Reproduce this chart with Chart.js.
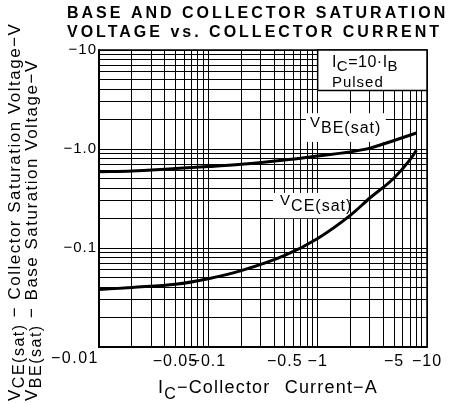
<!DOCTYPE html>
<html>
<head>
<meta charset="utf-8">
<script src="https://cdn.jsdelivr.net/npm/chart.js@4/dist/chart.umd.min.js"></script>
<style>
    html, body { margin: 0; padding: 0; background: #fff; }
    canvas { display: block; }
</style>
</head>
<body>
<canvas id="satChart" width="453" height="403"></canvas>
<script>
// collector current (A) and saturation voltages (V)
const vbeCurrent = [0.01, 0.02, 0.05, 0.1, 0.2, 0.5, 1, 2, 3, 5, 8];
const vbeSat = [0.59, 0.60, 0.636, 0.664, 0.70, 0.774, 0.85, 0.935, 1.02, 1.22, 1.45];
const vceCurrent = [0.01, 0.02, 0.05, 0.1, 0.2, 0.5, 1, 2, 3, 5, 7, 8];
const vceSat = [0.038, 0.040, 0.043, 0.049, 0.059, 0.084, 0.125, 0.215, 0.32, 0.51, 0.78, 0.97];

const xTickValues = [0.05, 0.1, 0.5, 1, 5, 10];
const xTickLabels = ['\u22120.05', '\u22120.1', '\u22120.5', '\u22121', '\u22125', '\u221210'];
const yTickValues = [10, 1, 0.1];
const yTickLabels = ['\u221210', '\u22121.0', '\u22120.1'];
const cornerLabel = '\u22120.01';

const FONT = '"Liberation Sans", Arial, Helvetica, sans-serif';

function gridValues(fromExp, toExp) {
    const out = [];
    for (let e = fromExp; e < toExp; e++) {
        for (let m = 1; m < 10; m++) out.push(+(m * Math.pow(10, e)).toPrecision(3));
    }
    out.push(Math.pow(10, toExp));
    return out;
}

function tickText(v, values, labels) {
    const i = values.findIndex(t => Math.abs(t - v) / t < 1e-6);
    return i < 0 ? '' : labels[i];
}

function toPoints(xs, ys) {
    return xs.map((x, i) => ({ x: x, y: ys[i] }));
}

// draws text made of [text, isSub] parts, returns its width
function drawRich(ctx, parts, x, y, size, subSize, subDrop, spacing) {
    let cx = x;
    ctx.letterSpacing = spacing;
    parts.forEach(p => {
        ctx.font = (p[1] ? subSize : size) + 'px ' + FONT;
        ctx.fillText(p[0], cx, y + (p[1] ? subDrop : 0));
        cx += ctx.measureText(p[0]).width;
    });
    return cx - x;
}

const textPlugin = {
    id: 'textPlugin',
    beforeDraw(chart) {
        const ctx = chart.ctx;
        ctx.save();
        ctx.fillStyle = '#fff';
        ctx.fillRect(0, 0, chart.width, chart.height);
        ctx.restore();
        ctx.letterSpacing = '1px';
    },
    beforeDatasetsDraw(chart) {
        const ctx = chart.ctx, xs = chart.scales.x, ys = chart.scales.y;
        ctx.save();
        ctx.fillStyle = '#fff';
        // white patches behind the curve labels
        let x0 = xs.getPixelForValue(0.78), x1 = xs.getPixelForValue(4.2);
        let y0 = ys.getPixelForValue(2.3), y1 = ys.getPixelForValue(1.18);
        ctx.fillRect(x0, y0, x1 - x0, y1 - y0);
        x0 = xs.getPixelForValue(0.39); x1 = xs.getPixelForValue(1.95);
        y0 = ys.getPixelForValue(0.36); y1 = ys.getPixelForValue(0.2);
        ctx.fillRect(x0, y0, x1 - x0, y1 - y0);
        ctx.restore();
    },
    afterDraw(chart) {
        const ctx = chart.ctx, xs = chart.scales.x, ys = chart.scales.y;
        const area = chart.chartArea;
        ctx.save();
        ctx.fillStyle = '#000';
        ctx.strokeStyle = '#000';
        ctx.textBaseline = 'alphabetic';
        ctx.textAlign = 'left';

        // frame
        ctx.lineWidth = 1.5;
        ctx.strokeRect(area.left, area.top, area.right - area.left, area.bottom - area.top);

        // condition box
        const bx = xs.getPixelForValue(1), by = ys.getPixelForValue(3.9);
        ctx.fillStyle = '#fff';
        ctx.fillRect(bx, area.top, area.right - bx, by - area.top);
        ctx.strokeRect(bx, area.top, area.right - bx, by - area.top);
        ctx.fillStyle = '#000';
        drawRich(ctx, [['I', false], ['C', true], ['=10\u00b7I', false], ['B', true]],
            xs.getPixelForValue(1.35), ys.getPixelForValue(6.8), 16, 15, 4, '0.5px');
        drawRich(ctx, [['Pulsed', false]], xs.getPixelForValue(1.35), ys.getPixelForValue(4.25), 15, 15, 0, '1px');

        // curve labels
        drawRich(ctx, [['V', false], ['BE(sat)', true]],
            xs.getPixelForValue(0.85), ys.getPixelForValue(1.65), 15, 16, 6, '1px');
        drawRich(ctx, [['V', false], ['CE(sat)', true]],
            xs.getPixelForValue(0.453), ys.getPixelForValue(0.275), 15, 16, 6, '1px');

        // corner tick label
        ctx.letterSpacing = '1.5px';
        ctx.font = '16px ' + FONT;
        ctx.textAlign = 'right';
        ctx.fillText(cornerLabel, area.left, 363);
        ctx.textAlign = 'left';

        // title
        ctx.letterSpacing = '3px';
        ctx.font = 'bold 16px ' + FONT;
        ctx.fillText('BASE AND COLLECTOR SATURATION', 67, 18);
        ctx.fillText('VOLTAGE vs. COLLECTOR CURRENT', 67, 37);

        // x axis title
        ctx.wordSpacing = '8px';
        drawRich(ctx, [['I', false], ['C', true], ['\u2212Collector Current\u2212A', false]],
            158, 393, 18, 16, 6, '1.2px');
        ctx.wordSpacing = '0px';

        // y axis titles, rotated
        ctx.translate(20, 401);
        ctx.rotate(-Math.PI / 2);
        drawRich(ctx, [['V', false], ['CE(sat)', true], [' \u2212 Collector Saturation Voltage\u2212V', false]],
            0, 0, 17, 16, 4, '1.5px');
        ctx.translate(0, 17);
        drawRich(ctx, [['V', false], ['BE(sat)', true], [' \u2212 Base Saturation Voltage\u2212V', false]],
            0, 0, 17, 16, 4, '1.5px');
        ctx.restore();
        ctx.letterSpacing = '0px';
    }
};

const axisGrid = { color: '#000', lineWidth: 1, drawTicks: false };

new Chart(document.getElementById('satChart').getContext('2d'), {
    type: 'line',
    data: {
        datasets: [{
            label: 'VBE(sat)',
            data: toPoints(vbeCurrent, vbeSat),
            borderColor: '#000',
            borderWidth: 3,
            pointRadius: 0,
            cubicInterpolationMode: 'monotone'
        }, {
            label: 'VCE(sat)',
            data: toPoints(vceCurrent, vceSat),
            borderColor: '#000',
            borderWidth: 3,
            pointRadius: 0,
            cubicInterpolationMode: 'monotone'
        }]
    },
    options: {
        responsive: false,
        animation: false,
        layout: { padding: { top: 50, right: 26, left: 0, bottom: 0 } },
        plugins: { legend: { display: false }, tooltip: { enabled: false } },
        scales: {
            x: {
                type: 'logarithmic',
                min: 0.01,
                max: 10,
                afterBuildTicks: s => { s.ticks = gridValues(-2, 1).map(v => ({ value: v })); },
                afterFit: s => { s.height = 56; },
                grid: axisGrid,
                border: { color: '#000', width: 1.5 },
                ticks: {
                    autoSkip: false,
                    maxRotation: 0,
                    padding: 5,
                    color: '#000',
                    font: { family: FONT, size: 16 },
                    callback: v => tickText(v, xTickValues, xTickLabels)
                }
            },
            y: {
                type: 'logarithmic',
                min: 0.01,
                max: 10,
                afterBuildTicks: s => { s.ticks = gridValues(-2, 1).map(v => ({ value: v })); },
                afterFit: s => { s.width = 99; },
                grid: axisGrid,
                border: { color: '#000', width: 1.5 },
                ticks: {
                    autoSkip: false,
                    padding: 2,
                    color: '#000',
                    font: { family: FONT, size: 15 },
                    callback: v => tickText(v, yTickValues, yTickLabels)
                }
            }
        }
    },
    plugins: [textPlugin]
});
</script>
</body>
</html>
